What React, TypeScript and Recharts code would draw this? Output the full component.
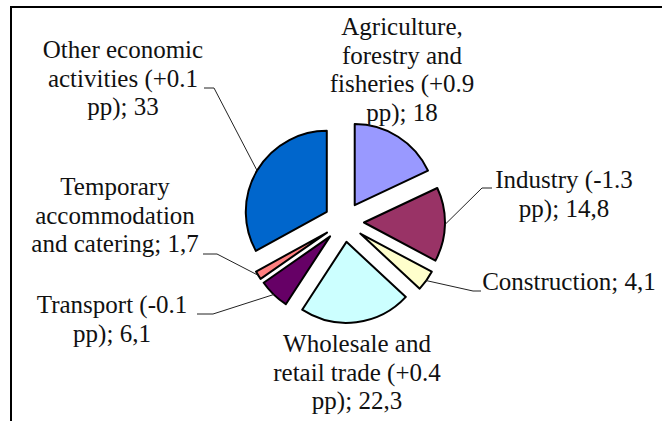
import React from 'react'
import { PieChart, Pie, Sector } from 'recharts'

// sector shares, clockwise from 12 o'clock
const categories = [
  'Agriculture, forestry and fisheries',
  'Industry',
  'Construction',
  'Wholesale and retail trade',
  'Transport',
  'Temporary accommodation and catering',
  'Other economic activities',
]
const shares = [18, 14.8, 4.1, 22.3, 6.1, 1.7, 33]
const changes = ['+0.9', '-1.3', '', '+0.4', '-0.1', '', '+0.1']
const colors = ['#9999FF', '#993366', '#FFFFCC', '#CCFFFF', '#660066', '#FF8080', '#0066CC']

const data = categories.map((name, i) => ({ name, value: shares[i], change: changes[i] }))

const EXPLODE = 20
const LINE_H = 28.5
const RAD = Math.PI / 180
const FONT = 'Liberation Serif, Times New Roman, DejaVu Serif, serif'

// label placement: centre x, first baseline, words per line, leader elbow
const labelLayout = [
  { x: 402, y: 35, words: [1, 2, 2, 2], leader: null },
  { x: 564, y: 188, words: [2, 2], leader: { ex: 482, ey: 188, hx: 492 } },
  { x: 569, y: 290, words: [2], leader: { ex: 473, ey: 291, hx: 481 } },
  { x: 357, y: 352, words: [2, 3, 2], leader: null },
  { x: 112, y: 313, words: [2, 2], leader: { ex: 213, ey: 314, hx: 197 } },
  { x: 115, y: 195, words: [1, 1, 3], leader: { ex: 217, ey: 254, hx: 203 } },
  { x: 123, y: 58, words: [2, 2, 2], leader: { ex: 214, ey: 88, hx: 204 } },
]

const fmt = (v: number) => String(v).replace('.', ',')

const labelLines = (i: number) => {
  const d = data[i]
  const text = `${d.name}${d.change ? ` (${d.change} pp)` : ''}; ${fmt(d.value)}`
  const words = text.split(' ')
  const out: string[] = []
  let k = 0
  labelLayout[i].words.forEach((n) => {
    out.push(words.slice(k, k + n).join(' '))
    k += n
  })
  return out
}

const renderSlice = (props: any) => {
  const { cx, cy, midAngle, outerRadius, startAngle, endAngle, index } = props
  const sx = cx + EXPLODE * Math.cos(-midAngle * RAD)
  const sy = cy + EXPLODE * Math.sin(-midAngle * RAD)
  const px = sx + outerRadius * Math.cos(-midAngle * RAD)
  const py = sy + outerRadius * Math.sin(-midAngle * RAD)
  const lay = labelLayout[index]
  const lines = labelLines(index)
  return (
    <g key={`slice-${index}`}>
      <Sector
        cx={sx}
        cy={sy}
        innerRadius={0}
        outerRadius={outerRadius}
        startAngle={startAngle}
        endAngle={endAngle}
        fill={colors[index]}
        stroke="#000"
        strokeWidth={2}
        strokeLinejoin="round"
      />
      {lay.leader && (
        <polyline
          points={`${px},${py} ${lay.leader.ex},${lay.leader.ey} ${lay.leader.hx},${lay.leader.ey}`}
          fill="none"
          stroke="#222"
          strokeWidth={1}
        />
      )}
      <text
        x={lay.x}
        y={lay.y}
        textAnchor="middle"
        fill="#111"
        style={{ fontFamily: FONT, fontSize: 25 }}
      >
        {lines.map((l, j) => (
          <tspan key={j} x={lay.x} y={lay.y + j * LINE_H}>
            {l}
          </tspan>
        ))}
      </text>
    </g>
  )
}

export default function App() {
  return (
    <div style={{ position: 'absolute', left: 0, top: 0, width: 662, height: 421, background: '#fff', fontFamily: FONT }}>
      <div
        style={{
          position: 'absolute',
          left: 10,
          top: 6,
          right: 0,
          bottom: 0,
          borderTop: '2px solid #000',
          borderLeft: '2px solid #000',
        }}
      />
      <div style={{ position: 'absolute', left: 0, top: 0 }}>
        <PieChart width={662} height={421} margin={{ top: 0, right: 0, bottom: 0, left: 0 }}>
          <Pie
            data={data}
            dataKey="value"
            nameKey="name"
            cx={344}
            cy={222}
            outerRadius={81}
            startAngle={90}
            endAngle={-270}
            fill="none"
            stroke="none"
            label={renderSlice}
            labelLine={false}
            isAnimationActive={false}
          />
        </PieChart>
      </div>
    </div>
  )
}
